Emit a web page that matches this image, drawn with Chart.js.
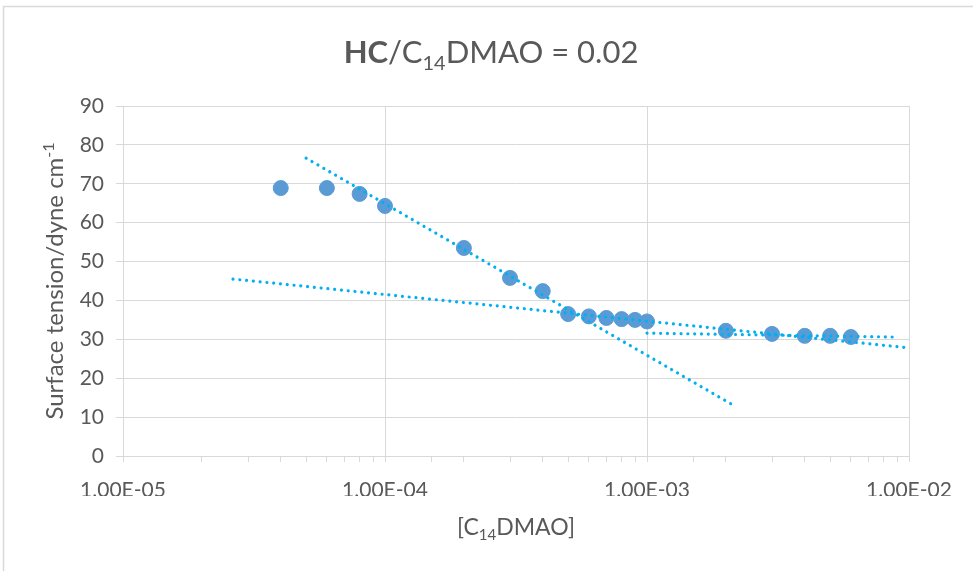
<!DOCTYPE html>
<html><head><meta charset="utf-8">
<script src="https://cdn.jsdelivr.net/npm/chart.js@4.4.1/dist/chart.umd.min.js"></script>
<style>html,body{margin:0;padding:0;background:#fff;}#wrap{width:973px;height:571px;position:relative;}</style>
</head><body><div id="wrap"><canvas id="c" width="973" height="571"></canvas></div>
<script>
// ---- data ----
const concentration = [4e-5, 6e-5, 8e-5, 1e-4, 2e-4, 3e-4, 4e-4, 5e-4, 6e-4, 7e-4, 8e-4, 9e-4, 1e-3, 2e-3, 3e-3, 4e-3, 5e-3, 6e-3];
const surfaceTension = [68.9, 68.9, 67.4, 64.3, 53.5, 45.8, 42.4, 36.5, 35.9, 35.5, 35.2, 35.0, 34.6, 32.2, 31.4, 30.9, 30.9, 30.6];
const trendSteepX = [5e-5, 2.13e-3];
const trendSteepY = [76.6, 13.1];
const trendShallowX = [2.63e-5, 1e-2];
const trendShallowY = [45.5, 27.8];
const trendFlatX = [1e-3, 8.7e-3];
const trendFlatY = [31.6, 30.6];
const xTickLabels = ['1.00E-05', '1.00E-04', '1.00E-03', '1.00E-02'];
const yTickValues = [0, 10, 20, 30, 40, 50, 60, 70, 80, 90];
const titleParts = [['HC', 'b'], ['/C', 'n'], ['14', 'sub'], ['DMAO = 0.02', 'n']];
const xTitleParts = [['[C', 'n'], ['14', 'sub'], ['DMAO]', 'n']];
const yTitleParts = [['Surface tension/dyne cm', 'n'], ['-1', 'sup']];

const FONT = 'Lato';
const TXT = '#595959';
const GRID = '#d9d9d9';

function pts(xs, ys) { return xs.map((x, i) => ({x: x, y: ys[i]})); }
function isDecade(v) { const l = Math.log10(v); return Math.abs(l - Math.round(l)) < 1e-6; }

function drawRich(ctx, parts, size, cx, cy, rot) {
  const small = Math.round(size * 0.65);
  const fontFor = s => (s === 'b' ? 'bold ' : '') + ((s === 'sub' || s === 'sup') ? small : size) + 'px ' + FONT;
  let total = 0;
  parts.forEach(p => { ctx.font = fontFor(p[1]); total += ctx.measureText(p[0]).width; });
  ctx.save();
  ctx.translate(cx, cy);
  if (rot) ctx.rotate(rot);
  ctx.fillStyle = TXT;
  ctx.textBaseline = 'alphabetic';
  ctx.textAlign = 'left';
  let x = -total / 2;
  parts.forEach(p => {
    ctx.font = fontFor(p[1]);
    let dy = 0;
    if (p[1] === 'sub') dy = size * 0.22;
    if (p[1] === 'sup') dy = -size * 0.38;
    ctx.fillText(p[0], x, dy);
    x += ctx.measureText(p[0]).width;
  });
  ctx.restore();
}

const decor = {
  id: 'decor',
  beforeDraw(chart) {
    const ctx = chart.ctx;
    ctx.save();
    ctx.fillStyle = '#fff';
    ctx.fillRect(0, 0, chart.width, chart.height);
    ctx.strokeStyle = GRID;
    ctx.lineWidth = 1.5;
    ctx.beginPath();
    ctx.moveTo(3.5, chart.height + 2);
    ctx.lineTo(3.5, 6.5);
    ctx.lineTo(chart.width + 2, 6.5);
    ctx.stroke();
    ctx.restore();
  },
  afterDraw(chart) {
    const ctx = chart.ctx;
    const a = chart.chartArea;
    drawRich(ctx, titleParts, 31, 491, 63, 0);
    drawRich(ctx, xTitleParts, 23, (a.left + a.right) / 2, 535, 0);
    drawRich(ctx, yTitleParts, 24, 63, (a.top + a.bottom) / 2, -Math.PI / 2);
  }
};

new Chart(document.getElementById('c'), {
  type: 'scatter',
  data: {
    datasets: [
      { label: 'data', data: pts(concentration, surfaceTension), order: 2,
        backgroundColor: 'rgb(91,155,213)', borderColor: 'rgb(91,155,213)', borderWidth: 1,
        pointRadius: 7.5, pointHoverRadius: 7.5, showLine: false },
      { label: 'trend1', data: pts(trendSteepX, trendSteepY), order: 1, showLine: true, pointRadius: 0,
        borderColor: '#00b0f0', borderWidth: 3.2, borderDash: [0.01, 6.8], borderCapStyle: 'round', fill: false },
      { label: 'trend2', data: pts(trendShallowX, trendShallowY), order: 1, showLine: true, pointRadius: 0,
        borderColor: '#00b0f0', borderWidth: 3.2, borderDash: [0.01, 6.8], borderCapStyle: 'round', fill: false },
      { label: 'trend3', data: pts(trendFlatX, trendFlatY), order: 1, showLine: true, pointRadius: 0,
        borderColor: '#00b0f0', borderWidth: 3.2, borderDash: [0.01, 6.8], borderCapStyle: 'round', fill: false }
    ]
  },
  options: {
    responsive: false,
    animation: false,
    events: [],
    layout: { padding: { left: 0, top: 106, right: 64, bottom: 75 } },
    plugins: { legend: { display: false }, title: { display: false }, tooltip: { enabled: false } },
    scales: {
      x: {
        type: 'logarithmic', min: 1e-5, max: 1e-2,
        afterFit(s) { s.height = 40; },
        border: { display: true, color: GRID, width: 1 },
        grid: {
          drawTicks: true, tickLength: 6, tickColor: GRID, lineWidth: 1,
          color: ctx => (ctx.tick && isDecade(ctx.tick.value)) ? GRID : 'rgba(0,0,0,0)'
        },
        ticks: {
          autoSkip: false, maxRotation: 0, minRotation: 0, padding: 16,
          color: TXT, font: { family: FONT, size: 21 },
          callback(v) {
            if (!isDecade(v)) return '';
            const i = Math.round(Math.log10(v)) + 5;
            return xTickLabels[i] !== undefined ? xTickLabels[i] : '';
          }
        }
      },
      y: {
        type: 'linear', min: 0, max: 90,
        afterFit(s) { s.width = 123; },
        afterBuildTicks(s) { s.ticks = yTickValues.map(v => ({value: v})); },
        border: { display: true, color: GRID, width: 1 },
        grid: { drawTicks: true, tickLength: 7, tickColor: GRID, color: GRID, lineWidth: 1 },
        ticks: { padding: 12, color: TXT, font: { family: FONT, size: 21 } }
      }
    }
  },
  plugins: [decor]
});
</script>
</body></html>
